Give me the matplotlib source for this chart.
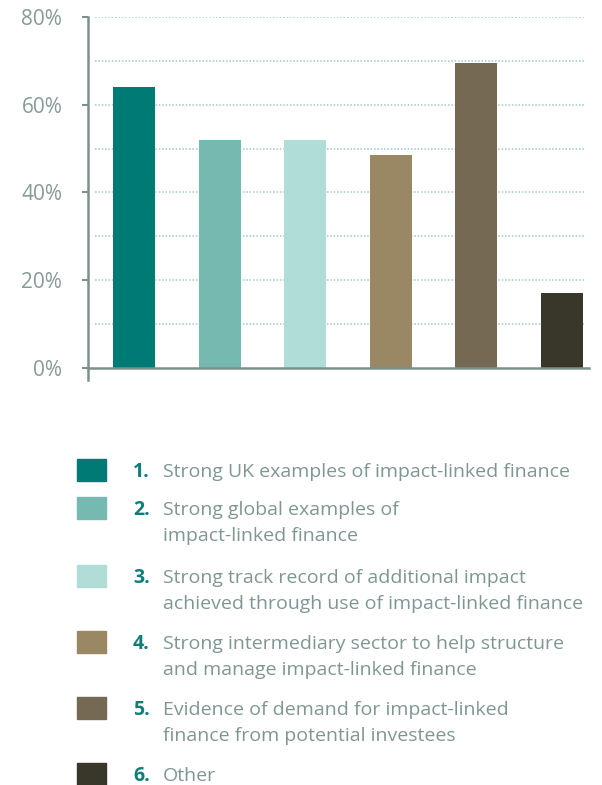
import numpy as np
import matplotlib.pyplot as plt

# survey results: share of respondents choosing each factor
labels = [
    "Strong UK examples of impact-linked finance",
    "Strong global examples of\nimpact-linked finance",
    "Strong track record of additional impact\nachieved through use of impact-linked finance",
    "Strong intermediary sector to help structure\nand manage impact-linked finance",
    "Evidence of demand for impact-linked\nfinance from potential investees",
    "Other",
]
values = [64, 52, 52, 48.5, 69.5, 17]
colors = ["#007a74", "#76b9b1", "#b1ddd8", "#9a8864", "#756953", "#39362a"]

axis_col = "#7b918e"
text_col = "#7f9794"
grid_col = "#9fcac9"
num_col = "#0f7d78"

plt.rcParams["font.family"] = ["Open Sans", "DejaVu Sans"]

fig = plt.figure(figsize=(6.02, 7.85), dpi=100)
ax = fig.add_axes([88 / 602, 1 - 380 / 785, (589 - 88) / 602, (380 - 17) / 785])

x = np.arange(len(values))
for yv in range(10, 81, 10):
    ax.axhline(yv, xmin=0.014, xmax=0.992, color=grid_col, lw=1.1,
               ls=(0, (1, 1.2)), zorder=0)
ax.bar(x, values, width=0.49, color=colors, zorder=2)

ax.set_xlim(-0.537, 5.315)
ax.set_ylim(-2.75, 80)
ax.set_xticks([])
ax.set_yticks([0, 20, 40, 60, 80])
ax.set_yticklabels([f"{v}%" for v in [0, 20, 40, 60, 80]])
ax.tick_params(axis="y", direction="out", length=4.5, width=1.5,
               color=axis_col, labelcolor="#869b98", labelsize=15, pad=14)
ax.spines[["top", "right"]].set_visible(False)
ax.spines["bottom"].set_position(("data", 0))
for s in ["left", "bottom"]:
    ax.spines[s].set_color(axis_col)
    ax.spines[s].set_linewidth(1.8)
ax.spines["left"].set_bounds(-2.75, 80)

# legend built by hand: swatch, bold number, description lines on baselines
rows = [470, 508, 576, 642, 708, 774]
for i, (lab, col, yp) in enumerate(zip(labels, colors, rows)):
    yf = 1 - yp / 785
    fig.patches.append(plt.Rectangle((77 / 602, yf - 11 / 785), 29 / 602, 22 / 785,
                                     transform=fig.transFigure, color=col))
    base = yp + 7
    fig.text(133 / 602, 1 - base / 785, f"{i + 1}.", color=num_col, fontsize=14,
             fontweight="bold", va="baseline", ha="left")
    for j, line in enumerate(lab.split("\n")):
        fig.text(163 / 602, 1 - (base + 26 * j) / 785, line, color=text_col,
                 fontsize=14, va="baseline", ha="left")

fig.savefig("out.png", dpi=100)
